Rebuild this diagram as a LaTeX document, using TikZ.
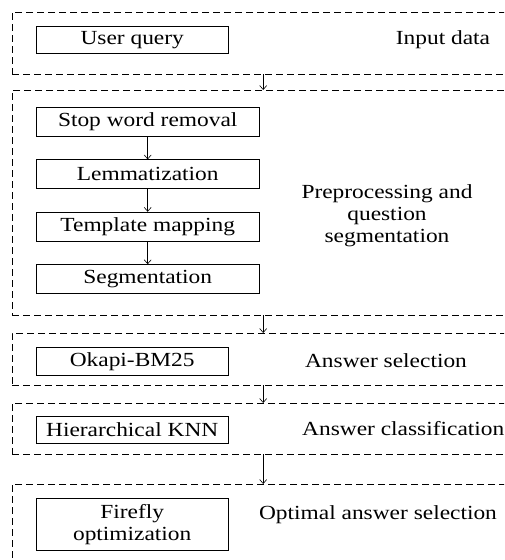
\documentclass[tikz,border=0pt]{standalone}
\usepackage{fontspec}
\setmainfont{Liberation Serif}[FakeStretch=1.17]
\usetikzlibrary{arrows.meta, positioning}

\begin{document}
\begin{tikzpicture}[
    x=1pt, y=-1pt,
    node distance=23pt,
    every node/.style={font=\fontsize{20}{22}\selectfont, inner sep=0pt},
    panel/.style={draw, dash pattern=on 7pt off 4pt, minimum width=502pt, anchor=north west},
    box/.style={draw, align=center, minimum width=192pt, minimum height=28pt, anchor=north west},
    stepbox/.style={box, minimum width=223pt, minimum height=29pt},
    stage/.style={align=center},
    arrow/.style={-{Straight Barb[length=4pt,width=7pt]}, semithick}
]
\clip (0,0) rectangle (504,560);

% dashed stage panels
\node[panel, minimum height=62pt] (input) at (12,12) {};
\node[panel, minimum height=225pt] (prep) at (12,90) {};
\node[panel, minimum height=52pt] (select) at (12,333) {};
\node[panel, minimum height=51pt] (classify) at (12,403) {};
\node[panel, minimum height=84pt] (optimal) at (12,484) {};

% process boxes
\node[box, minimum height=27pt] (query) at (36,26) {User query};
\node[stepbox] (stop) at (36,107) {Stop word removal};
\node[stepbox, below=of stop] (lemma) {Lemmatization};
\node[stepbox, below=of lemma] (template) {Template mapping};
\node[stepbox, below=of template] (segment) {Segmentation};
\node[box] (okapi) at (36,347) {Okapi-BM25};
\node[box, minimum height=27pt] (knn) at (36,416) {Hierarchical KNN};
\node[box, minimum height=52pt] (firefly) at (36,498) {Firefly\\optimization};

% stage names
\node[stage] (inputtxt) at (443,40) {Input data};
\node[stage] (preptxt) at (387,216) {Preprocessing and\\question\\segmentation};
\node[stage] (selecttxt) at (386,361) {Answer selection};
\node[stage, anchor=west] (classifytxt) at (302,429) {Answer classification};
\node[stage] (optimaltxt) at (378,515) {Optimal answer selection};

\draw[arrow] (input) -- (prep);
\draw[arrow] (stop) -- (lemma);
\draw[arrow] (lemma) -- (template);
\draw[arrow] (template) -- (segment);
\draw[arrow] (prep) -- (select);
\draw[arrow] (select) -- (classify);
\draw[arrow] (classify) -- (optimal);
\end{tikzpicture}
\end{document}
